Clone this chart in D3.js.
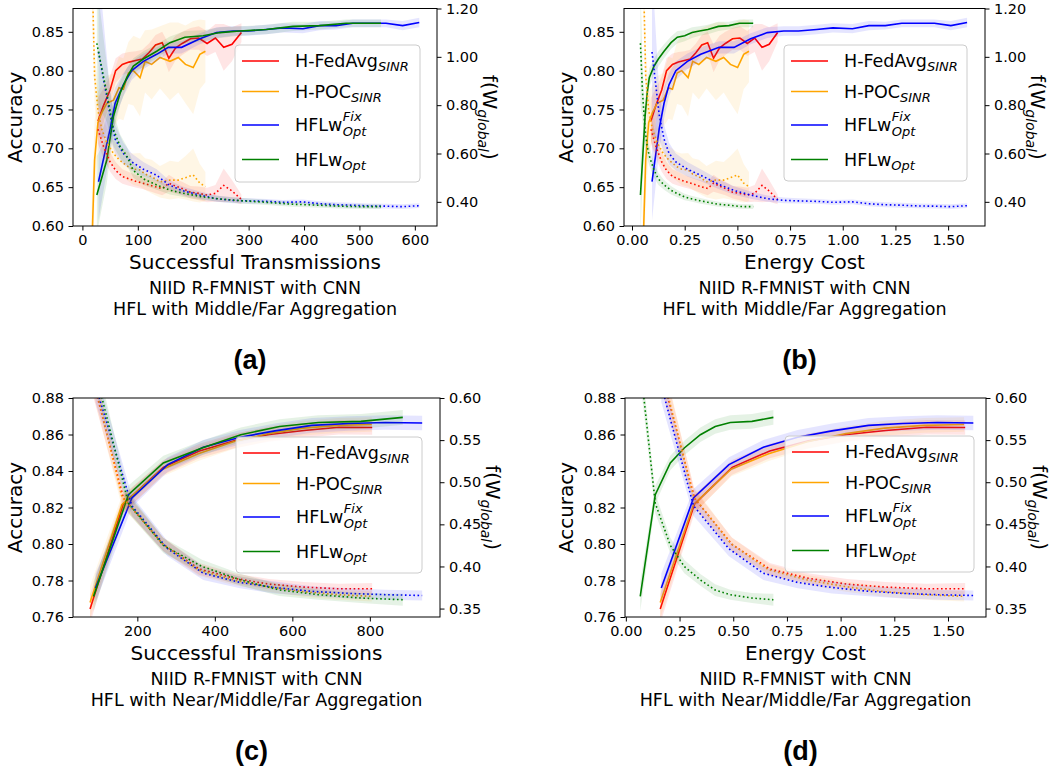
<!DOCTYPE html>
<html>
<head>
<meta charset="utf-8">
<script src="https://cdn.jsdelivr.net/npm/d3@7"></script>
<style>
    body { margin: 0; background: #fff; }
    text { font-family: "DejaVu Sans", sans-serif; fill: #000; }
</style>
</head>
<body>
<svg id="fig" width="1057" height="775"></svg>
<script>
//----- Middle/Far aggregation runs (panels a and b) -----
var mfRedTx = [28, 38, 50, 60, 72, 84, 96, 108, 120, 132, 144, 156, 168, 180, 195, 210, 225, 240, 255, 270, 287];
var mfRedEc = [0.09, 0.113, 0.141, 0.164, 0.192, 0.22, 0.248, 0.276, 0.303, 0.331, 0.359, 0.387, 0.415, 0.443, 0.477, 0.512, 0.547, 0.582, 0.617, 0.651, 0.691];
var mfRedAcc = [0.735, 0.755, 0.775, 0.800, 0.808, 0.811, 0.813, 0.815, 0.823, 0.833, 0.836, 0.816, 0.829, 0.835, 0.841, 0.842, 0.835, 0.842, 0.830, 0.834, 0.849];
var mfRedLoss = [0.70, 0.63, 0.565, 0.53, 0.505, 0.495, 0.485, 0.478, 0.47, 0.462, 0.455, 0.477, 0.465, 0.455, 0.44, 0.435, 0.428, 0.435, 0.468, 0.445, 0.41];
var mfRedAccSd = [0.03, 0.022, 0.018, 0.016, 0.014, 0.013, 0.012, 0.012, 0.012, 0.013, 0.014, 0.018, 0.016, 0.015, 0.014, 0.015, 0.016, 0.018, 0.03, 0.022, 0.012];
var mfRedLossSd = [0.06, 0.05, 0.04, 0.035, 0.03, 0.028, 0.026, 0.025, 0.025, 0.026, 0.028, 0.035, 0.03, 0.028, 0.026, 0.028, 0.03, 0.035, 0.07, 0.045, 0.02];

var mfOrangeTx = [16, 22, 28, 35, 44, 56, 66, 74, 83, 92, 104, 113, 125, 140, 158, 173, 186, 200, 212, 222];
var mfOrangeEc = [0.05, 0.065, 0.079, 0.097, 0.119, 0.148, 0.173, 0.192, 0.214, 0.236, 0.266, 0.288, 0.317, 0.354, 0.398, 0.435, 0.467, 0.501, 0.53, 0.555];
var mfOrangeAcc = [0.55, 0.685, 0.733, 0.746, 0.758, 0.762, 0.778, 0.776, 0.797, 0.80, 0.791, 0.812, 0.808, 0.817, 0.812, 0.817, 0.808, 0.804, 0.821, 0.825];
var mfOrangeLoss = [1.50, 0.92, 0.78, 0.70, 0.645, 0.60, 0.575, 0.56, 0.545, 0.535, 0.532, 0.515, 0.504, 0.483, 0.49, 0.49, 0.50, 0.511, 0.477, 0.463];
var mfOrangeAccSd = [0.06, 0.05, 0.04, 0.035, 0.035, 0.035, 0.04, 0.04, 0.04, 0.045, 0.05, 0.04, 0.045, 0.04, 0.05, 0.045, 0.05, 0.06, 0.045, 0.04];
var mfOrangeLossSd = [0.2, 0.12, 0.09, 0.07, 0.06, 0.055, 0.055, 0.06, 0.06, 0.065, 0.07, 0.065, 0.07, 0.065, 0.08, 0.075, 0.09, 0.11, 0.08, 0.06];

var mfBlueTx = [29, 50, 59, 74, 89, 110, 134, 155, 179, 212, 242, 272, 299, 332, 362, 398, 428, 458, 488, 518, 548, 578, 608];
var mfBlueEc = [0.095, 0.129, 0.152, 0.176, 0.208, 0.263, 0.326, 0.413, 0.484, 0.563, 0.642, 0.72, 0.79, 0.876, 0.953, 1.046, 1.124, 1.202, 1.28, 1.357, 1.435, 1.513, 1.59];
var mfBlueAcc = [0.657, 0.725, 0.758, 0.782, 0.80, 0.812, 0.821, 0.830, 0.830, 0.841, 0.849, 0.851, 0.851, 0.853, 0.855, 0.854, 0.858, 0.858, 0.861, 0.861, 0.861, 0.858, 0.862];
var mfBlueLoss = [1.02, 0.76, 0.66, 0.60, 0.565, 0.535, 0.51, 0.472, 0.447, 0.428, 0.413, 0.406, 0.404, 0.402, 0.398, 0.400, 0.392, 0.388, 0.386, 0.383, 0.382, 0.380, 0.384];
var mfBlueAccSd = [0.05, 0.03, 0.02, 0.015, 0.012, 0.01, 0.009, 0.008, 0.008, 0.007, 0.007, 0.006, 0.006, 0.006, 0.006, 0.006, 0.006, 0.005, 0.005, 0.005, 0.005, 0.006, 0.006];
var mfBlueLossSd = [0.35, 0.1, 0.06, 0.045, 0.035, 0.03, 0.025, 0.02, 0.018, 0.015, 0.013, 0.012, 0.011, 0.01, 0.01, 0.01, 0.01, 0.01, 0.01, 0.01, 0.01, 0.01, 0.01];

var mfGreenTx = [26, 44, 56, 68, 80, 92, 110, 134, 158, 185, 218, 248, 284, 332, 380, 428, 476, 506, 539];
var mfGreenEc = [0.04, 0.05, 0.062, 0.072, 0.082, 0.105, 0.125, 0.152, 0.185, 0.215, 0.25, 0.285, 0.32, 0.36, 0.41, 0.46, 0.51, 0.54, 0.575];
var mfGreenAcc = [0.64, 0.685, 0.741, 0.771, 0.791, 0.806, 0.815, 0.825, 0.836, 0.843, 0.845, 0.849, 0.851, 0.853, 0.857, 0.858, 0.861, 0.861, 0.861];
var mfGreenLoss = [1.056, 0.85, 0.70, 0.63, 0.59, 0.53, 0.495, 0.47, 0.448, 0.434, 0.42, 0.412, 0.405, 0.398, 0.39, 0.386, 0.381, 0.38, 0.38];
var mfGreenAccSd = [0.05, 0.03, 0.02, 0.015, 0.012, 0.01, 0.01, 0.009, 0.008, 0.008, 0.007, 0.007, 0.006, 0.006, 0.006, 0.005, 0.005, 0.005, 0.005];
var mfGreenLossSd = [0.25, 0.12, 0.07, 0.05, 0.04, 0.03, 0.025, 0.02, 0.018, 0.015, 0.013, 0.012, 0.012, 0.011, 0.01, 0.01, 0.01, 0.01, 0.01];

//----- Near/Middle/Far aggregation runs (panels c and d) -----
var nmfRedTx = [78, 164, 267, 360, 450, 540, 630, 720, 806];
var nmfRedEc = [0.16, 0.32, 0.495, 0.67, 0.85, 1.03, 1.21, 1.40, 1.58];
var nmfRedAcc = [0.7644, 0.822, 0.842, 0.851, 0.8565, 0.860, 0.8622, 0.864, 0.8638];
var nmfRedLoss = [0.635, 0.481, 0.426, 0.397, 0.386, 0.379, 0.3755, 0.3735, 0.3735];
var nmfRedAccSd = [0.008, 0.005, 0.004, 0.004, 0.004, 0.004, 0.004, 0.004, 0.004];
var nmfRedLossSd = [0.02, 0.01, 0.008, 0.007, 0.006, 0.006, 0.006, 0.006, 0.007];

var nmfOrangeTx = [78, 160, 265, 357, 448, 538, 628, 718, 805];
var nmfOrangeEc = [0.16, 0.315, 0.49, 0.665, 0.845, 1.025, 1.205, 1.39, 1.575];
var nmfOrangeAcc = [0.768, 0.8215, 0.841, 0.8495, 0.856, 0.8605, 0.8635, 0.865, 0.8655];
var nmfOrangeLoss = [0.64, 0.483, 0.427, 0.396, 0.384, 0.376, 0.370, 0.3665, 0.3645];
var nmfOrangeAccSd = [0.009, 0.005, 0.004, 0.004, 0.004, 0.004, 0.004, 0.004, 0.004];
var nmfOrangeLossSd = [0.02, 0.012, 0.008, 0.007, 0.006, 0.006, 0.006, 0.006, 0.006];

var nmfBlueTx = [92, 186, 278, 370, 465, 555, 650, 745, 840, 935];
var nmfBlueEc = [0.165, 0.315, 0.48, 0.64, 0.80, 0.96, 1.13, 1.29, 1.45, 1.618];
var nmfBlueAcc = [0.7759, 0.8252, 0.8435, 0.853, 0.8585, 0.862, 0.865, 0.866, 0.8666, 0.8663];
var nmfBlueLoss = [0.615, 0.472, 0.421, 0.392, 0.381, 0.375, 0.3705, 0.368, 0.3665, 0.3655];
var nmfBlueAccSd = [0.008, 0.005, 0.004, 0.004, 0.004, 0.004, 0.004, 0.004, 0.004, 0.004];
var nmfBlueLossSd = [0.02, 0.012, 0.009, 0.008, 0.007, 0.007, 0.006, 0.006, 0.006, 0.006];

var nmfGreenTx = [87, 177, 267, 367, 467, 567, 667, 777, 885];
var nmfGreenEc = [0.067, 0.137, 0.207, 0.272, 0.347, 0.416, 0.486, 0.587, 0.687];
var nmfGreenAcc = [0.7713, 0.827, 0.8444, 0.8526, 0.8599, 0.8644, 0.8666, 0.8672, 0.8694];
var nmfGreenLoss = [0.64, 0.475, 0.425, 0.40, 0.384, 0.372, 0.3665, 0.3625, 0.3605];
var nmfGreenAccSd = [0.008, 0.005, 0.004, 0.004, 0.004, 0.004, 0.004, 0.004, 0.004];
var nmfGreenLossSd = [0.02, 0.012, 0.009, 0.008, 0.007, 0.007, 0.006, 0.006, 0.007];

//tick labels
var txTicksMF = [0, 100, 200, 300, 400, 500, 600];
var txTicksNMF = [200, 400, 600, 800];
var ecTicks = [0, 0.25, 0.5, 0.75, 1.0, 1.25, 1.5];
var accTicksMF = [0.60, 0.65, 0.70, 0.75, 0.80, 0.85];
var accTicksNMF = [0.76, 0.78, 0.80, 0.82, 0.84, 0.86, 0.88];
var lossTicksMF = [0.40, 0.60, 0.80, 1.00, 1.20];
var lossTicksNMF = [0.35, 0.40, 0.45, 0.50, 0.55, 0.60];

//series names
var seriesNames = [
    {main: "H-FedAvg", sub: "SINR", color: "#ff0000"},
    {main: "H-POC", sub: "SINR", color: "#ffa500"},
    {main: "HFLw", sup: "Fix", sub: "Opt", color: "#0000ff"},
    {main: "HFLw", sub: "Opt", color: "#008000"}
];

function makeSeries(name, tx, ec, acc, loss, accSd, lossSd) {
    return {name: name, tx: tx, ec: ec, acc: acc, loss: loss, accSd: accSd, lossSd: lossSd};
}

var mfSeries = [
    makeSeries(seriesNames[0], mfRedTx, mfRedEc, mfRedAcc, mfRedLoss, mfRedAccSd, mfRedLossSd),
    makeSeries(seriesNames[1], mfOrangeTx, mfOrangeEc, mfOrangeAcc, mfOrangeLoss, mfOrangeAccSd, mfOrangeLossSd),
    makeSeries(seriesNames[2], mfBlueTx, mfBlueEc, mfBlueAcc, mfBlueLoss, mfBlueAccSd, mfBlueLossSd),
    makeSeries(seriesNames[3], mfGreenTx, mfGreenEc, mfGreenAcc, mfGreenLoss, mfGreenAccSd, mfGreenLossSd)
];

var nmfSeries = [
    makeSeries(seriesNames[0], nmfRedTx, nmfRedEc, nmfRedAcc, nmfRedLoss, nmfRedAccSd, nmfRedLossSd),
    makeSeries(seriesNames[1], nmfOrangeTx, nmfOrangeEc, nmfOrangeAcc, nmfOrangeLoss, nmfOrangeAccSd, nmfOrangeLossSd),
    makeSeries(seriesNames[2], nmfBlueTx, nmfBlueEc, nmfBlueAcc, nmfBlueLoss, nmfBlueAccSd, nmfBlueLossSd),
    makeSeries(seriesNames[3], nmfGreenTx, nmfGreenEc, nmfGreenAcc, nmfGreenLoss, nmfGreenAccSd, nmfGreenLossSd)
];

//panel layout
var panels = [
    {tag: "(a)", series: mfSeries, xKey: "tx", left: 73, right: 437, top: 8.5, bottom: 226,
     xDomain: [-17, 640], xTicks: txTicksMF, xFmt: d3.format("d"),
     yDomain: [0.60, 0.88], yTicks: accTicksMF, y2Domain: [0.30, 1.20], y2Ticks: lossTicksMF,
     legend: {x: 235, y: 45, w: 185, h: 137}, yLabelX: 22, y2LabelX: 483,
     xLabel: "Successful Transmissions", caption: ["NIID R-FMNIST with CNN", "HFL with Middle/Far Aggregation"]},
    {tag: "(b)", series: mfSeries, xKey: "ec", left: 624, right: 985, top: 8.5, bottom: 226,
     xDomain: [-0.038, 1.675], xTicks: ecTicks, xFmt: d3.format(".2f"),
     yDomain: [0.60, 0.88], yTicks: accTicksMF, y2Domain: [0.30, 1.20], y2Ticks: lossTicksMF,
     legend: {x: 784, y: 45, w: 183, h: 136}, yLabelX: 573, y2LabelX: 1031,
     xLabel: "Energy Cost", caption: ["NIID R-FMNIST with CNN", "HFL with Middle/Far Aggregation"]},
    {tag: "(c)", series: nmfSeries, xKey: "tx", left: 73, right: 440, top: 398, bottom: 617,
     xDomain: [34, 981], xTicks: txTicksNMF, xFmt: d3.format("d"),
     yDomain: [0.76, 0.88], yTicks: accTicksNMF, y2Domain: [0.34, 0.60], y2Ticks: lossTicksNMF,
     legend: {x: 236, y: 437, w: 186, h: 136}, yLabelX: 22, y2LabelX: 486,
     xLabel: "Successful Transmissions", caption: ["NIID R-FMNIST with CNN", "HFL with Near/Middle/Far Aggregation"]},
    {tag: "(d)", series: nmfSeries, xKey: "ec", left: 625, right: 986, top: 398, bottom: 617,
     xDomain: [-0.004, 1.677], xTicks: ecTicks, xFmt: d3.format(".2f"),
     yDomain: [0.76, 0.88], yTicks: accTicksNMF, y2Domain: [0.34, 0.60], y2Ticks: lossTicksNMF,
     legend: {x: 785, y: 436, w: 189, h: 136}, yLabelX: 573, y2LabelX: 1033,
     xLabel: "Energy Cost", caption: ["NIID R-FMNIST with CNN", "HFL with Near/Middle/Far Aggregation"]}
];

var svg = d3.select("#fig");
var defs = svg.append("defs");

//style an axis group like matplotlib
function styleAxis(axisG) {
    axisG.select(".domain").remove();
    axisG.attr("font-size", 14.5).attr("font-family", "DejaVu Sans, sans-serif");
    axisG.selectAll("line").attr("stroke", "#000").attr("stroke-width", 1);
    axisG.selectAll("text").attr("fill", "#000");
}

function drawPanel(p, idx) {
    var g = svg.append("g");

    var x = d3.scaleLinear().domain(p.xDomain).range([p.left, p.right]);
    var y = d3.scaleLinear().domain(p.yDomain).range([p.bottom, p.top]);
    var y2 = d3.scaleLinear().domain(p.y2Domain).range([p.bottom, p.top]);

    //clip lines to the plot box
    var clipId = "clip" + idx;
    defs.append("clipPath").attr("id", clipId)
        .append("rect")
        .attr("x", p.left).attr("y", p.top)
        .attr("width", p.right - p.left).attr("height", p.bottom - p.top);

    var plot = g.append("g").attr("clip-path", `url(#${clipId})`);

    //accuracy bands and lines
    p.series.forEach(function(s) {
        var pts = s[p.xKey].map((v, i) => ({x: v, m: s.acc[i], sd: s.accSd[i]}));
        plot.append("path").datum(pts)
            .attr("d", d3.area().x(d => x(d.x)).y0(d => y(d.m - d.sd)).y1(d => y(d.m + d.sd)))
            .attr("fill", s.name.color)
            .attr("opacity", 0.1);
        plot.append("path").datum(pts)
            .attr("d", d3.line().x(d => x(d.x)).y(d => y(d.m)))
            .attr("fill", "none")
            .attr("stroke", s.name.color)
            .attr("stroke-width", 1.6);
    });

    //loss bands and dotted lines on the twin axis
    p.series.forEach(function(s) {
        var pts = s[p.xKey].map((v, i) => ({x: v, m: s.loss[i], sd: s.lossSd[i]}));
        plot.append("path").datum(pts)
            .attr("d", d3.area().x(d => x(d.x)).y0(d => y2(d.m - d.sd)).y1(d => y2(d.m + d.sd)))
            .attr("fill", s.name.color)
            .attr("opacity", 0.1);
        plot.append("path").datum(pts)
            .attr("d", d3.line().x(d => x(d.x)).y(d => y2(d.m)))
            .attr("fill", "none")
            .attr("stroke", s.name.color)
            .attr("stroke-width", 1.6)
            .attr("stroke-dasharray", "1.6,2.6");
    });

    //axes
    var xAxis = g.append("g")
        .attr("transform", `translate(0, ${p.bottom})`)
        .call(d3.axisBottom(x).tickValues(p.xTicks).tickFormat(p.xFmt).tickSize(4.5).tickPadding(4.5));
    styleAxis(xAxis);

    var yAxis = g.append("g")
        .attr("transform", `translate(${p.left}, 0)`)
        .call(d3.axisLeft(y).tickValues(p.yTicks).tickFormat(d3.format(".2f")).tickSize(4.5).tickPadding(4.5));
    styleAxis(yAxis);

    var y2Axis = g.append("g")
        .attr("transform", `translate(${p.right}, 0)`)
        .call(d3.axisRight(y2).tickValues(p.y2Ticks).tickFormat(d3.format(".2f")).tickSize(4.5).tickPadding(4.5));
    styleAxis(y2Axis);

    //frame
    g.append("rect")
        .attr("x", p.left).attr("y", p.top)
        .attr("width", p.right - p.left).attr("height", p.bottom - p.top)
        .attr("fill", "none").attr("stroke", "#000").attr("stroke-width", 1);

    //legend
    var lg = g.append("g");
    lg.append("rect")
        .attr("x", p.legend.x).attr("y", p.legend.y)
        .attr("width", p.legend.w).attr("height", p.legend.h)
        .attr("rx", 4)
        .attr("fill", "#fff").attr("fill-opacity", 0.8)
        .attr("stroke", "#cccccc").attr("stroke-width", 1);

    var rowOffsets = [16, 46.5, 80, 114.5];
    p.series.forEach(function(s, i) {
        var ry = p.legend.y + rowOffsets[i];
        lg.append("line")
            .attr("x1", p.legend.x + 7).attr("x2", p.legend.x + 44)
            .attr("y1", ry).attr("y2", ry)
            .attr("stroke", s.name.color).attr("stroke-width", 1.6);
        var tx = p.legend.x + 60;
        var t = lg.append("text")
            .attr("x", tx).attr("y", ry + 6)
            .attr("font-size", 17.5)
            .text(s.name.main);
        var w = t.node().getComputedTextLength();
        if (s.name.sup) {
            t.append("tspan").attr("x", tx + w + 0.5).attr("dy", -10)
                .attr("font-size", 13).attr("font-style", "italic").text(s.name.sup);
            t.append("tspan").attr("x", tx + w + 0.5).attr("dy", 14.5)
                .attr("font-size", 13).attr("font-style", "italic").text(s.name.sub);
        } else {
            t.append("tspan").attr("dy", 4)
                .attr("font-size", 13).attr("font-style", "italic").text(s.name.sub);
        }
    });

    //axis labels
    var midY = (p.top + p.bottom) / 2;
    var midX = (p.left + p.right) / 2;

    g.append("text")
        .attr("transform", `translate(${p.yLabelX}, ${midY}) rotate(-90)`)
        .attr("text-anchor", "middle")
        .attr("font-size", 20)
        .text("Accuracy");

    var fl = g.append("text")
        .attr("transform", `translate(${p.y2LabelX}, ${midY}) rotate(90)`)
        .attr("text-anchor", "middle")
        .attr("font-size", 20)
        .text("f(W");
    fl.append("tspan").attr("dy", 5).attr("font-size", 14).attr("font-style", "italic").text("global");
    fl.append("tspan").attr("dy", -5).text(")");

    g.append("text")
        .attr("x", midX).attr("y", p.bottom + 42.5)
        .attr("text-anchor", "middle")
        .attr("font-size", 20)
        .text(p.xLabel);

    p.caption.forEach(function(c, i) {
        g.append("text")
            .attr("x", midX).attr("y", p.bottom + 68 + i * 20.8)
            .attr("text-anchor", "middle")
            .attr("font-size", 17.5)
            .text(c);
    });

    g.append("text")
        .attr("x", midX - 5).attr("y", p.bottom + 143)
        .attr("text-anchor", "middle")
        .attr("font-size", 27)
        .attr("font-weight", "bold")
        .style("font-family", "'Liberation Sans', Arial, sans-serif")
        .text(p.tag);
}

panels.forEach(drawPanel);
</script>
</body>
</html>
